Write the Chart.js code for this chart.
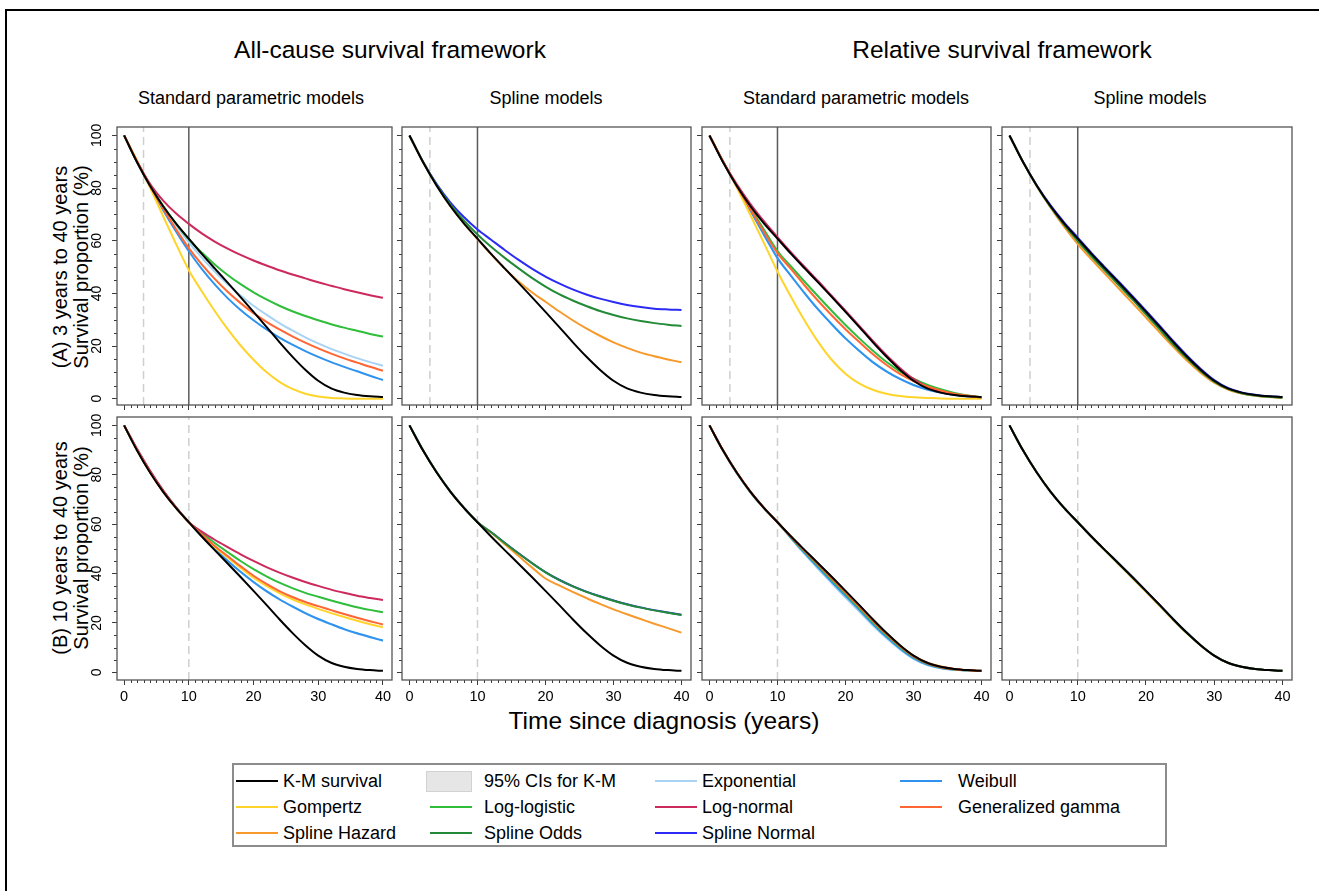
<!DOCTYPE html>
<html>
<head>
<meta charset="utf-8">
<script src="https://cdn.jsdelivr.net/npm/chart.js@4.4.1/dist/chart.umd.min.js"></script>
<style>
  body { margin: 0; background: #fff; width: 1319px; height: 891px; overflow: hidden; position: relative;
         font-family: "Liberation Sans", Arial, Helvetica, sans-serif; color: #000; }
  .frame { position: absolute; left: 5px; top: 9px; width: 1340px; height: 900px; border: 2px solid #000; }
  canvas { position: absolute; }
  .t { position: absolute; white-space: nowrap; transform: translate(-50%, -50%); line-height: 1; }
  .rot { transform: translate(-50%, -50%) rotate(-90deg); }
  .legend { position: absolute; left: 232px; top: 763px; width: 931px; height: 80px; border: 2px solid #8c8c8c; }
  .key { position: absolute; height: 2px; }
  .ci { position: absolute; background: #e6e6e6; border: 1px solid #d2d2d2; }
  .lab { position: absolute; font-size: 18px; white-space: nowrap; transform: translateY(-50%); line-height: 1; }
</style>
</head>
<body>
<div class="frame"></div>

<div class="t" style="left:390px;top:50px;font-size:24.5px">All-cause survival framework</div>
<div class="t" style="left:1002px;top:50px;font-size:24.5px">Relative survival framework</div>
<div class="t" style="left:251px;top:98px;font-size:18px">Standard parametric models</div>
<div class="t" style="left:546px;top:98px;font-size:18px">Spline models</div>
<div class="t" style="left:856px;top:98px;font-size:18px">Standard parametric models</div>
<div class="t" style="left:1150px;top:98px;font-size:18px">Spline models</div>

<div class="t rot" style="left:60px;top:267px;font-size:20px">(A) 3 years to 40 years</div>
<div class="t rot" style="left:81px;top:267px;font-size:20px">Survival proportion (%)</div>
<div class="t rot" style="left:60px;top:548px;font-size:20px">(B) 10 years to 40 years</div>
<div class="t rot" style="left:81px;top:548px;font-size:20px">Survival proportion (%)</div>

<div class="t" style="left:664px;top:721px;font-size:24.5px">Time since diagnosis (years)</div>

<div id="legend"></div>

<script>
// ── DATA (survival %) ─────────────────────────────────────────────────────
const years = [0, 2, 4, 6, 8, 10, 12, 14, 16, 18, 20, 22, 24, 26, 28, 30, 32, 34, 36, 38, 40];

const kmSurvival = [100, 89.8, 80.9, 73.2, 66.6, 60.8, 55.0, 49.5, 44.1, 38.6, 33.0, 27.3, 21.5, 16.0, 11.0, 6.8, 3.9, 2.3, 1.4, 0.9, 0.6];

// (A) fitted on 3 years - all-cause, standard parametric
const aAllExponential = [100, 90.0, 81.1, 73.1, 65.9, 59.4, 53.6, 48.3, 43.5, 39.2, 35.3, 31.9, 28.7, 25.9, 23.3, 21.0, 18.9, 17.1, 15.4, 13.9, 12.5];
const aAllWeibull     = [100, 89.9, 80.6, 71.8, 63.6, 56.0, 49.3, 43.4, 38.2, 33.7, 29.8, 26.3, 23.2, 20.5, 18.1, 15.9, 13.9, 12.1, 10.4, 8.7, 7.1];
const aAllGompertz    = [100, 90.4, 80.2, 69.5, 58.9, 48.8, 40.8, 33.3, 26.4, 20.2, 14.8, 10.1, 6.4, 3.7, 1.9, 0.8, 0.3, 0.1, 0.0, 0.0, 0.0];
const aAllLogLogistic = [100, 89.9, 81.0, 73.4, 66.6, 60.5, 55.5, 51.0, 47.0, 43.5, 40.4, 37.7, 35.3, 33.2, 31.4, 29.8, 28.3, 27.0, 25.8, 24.6, 23.6];
const aAllLogNormal   = [100, 90.2, 81.6, 75.3, 70.4, 66.4, 62.8, 59.7, 57.0, 54.6, 52.5, 50.6, 48.8, 47.2, 45.7, 44.2, 42.9, 41.6, 40.4, 39.3, 38.3];
const aAllGenGamma    = [100, 90.0, 80.9, 72.3, 64.4, 57.2, 51.0, 45.5, 40.6, 36.3, 32.5, 29.2, 26.3, 23.7, 21.3, 19.1, 17.1, 15.3, 13.7, 12.1, 10.6];
// (A) all-cause, spline
const aAllSplineHazard = [100, 89.8, 80.9, 73.2, 66.6, 60.6, 54.8, 49.4, 44.6, 40.4, 36.8, 33.2, 29.8, 26.7, 23.9, 21.4, 19.3, 17.5, 16.1, 14.9, 13.8];
const aAllSplineOdds   = [100, 89.9, 81.2, 73.8, 67.7, 62.4, 57.7, 53.5, 49.6, 45.9, 42.6, 39.7, 37.3, 35.2, 33.3, 31.8, 30.5, 29.5, 28.7, 28.1, 27.6];
const aAllSplineNormal = [100, 90.0, 81.5, 74.6, 69.0, 64.3, 60.4, 56.5, 52.8, 49.4, 46.4, 43.8, 41.5, 39.6, 38.0, 36.7, 35.6, 34.8, 34.2, 33.9, 33.7];
// (A) relative, standard parametric
const aRelExponential = [100, 90.0, 80.6, 71.6, 62.3, 53.5, 46.7, 40.1, 33.9, 28.3, 23.0, 18.3, 14.0, 10.5, 7.6, 5.2, 3.5, 2.3, 1.4, 0.8, 0.3];
const aRelWeibull     = [100, 90.0, 80.6, 71.6, 62.3, 53.4, 46.6, 40.0, 33.8, 28.2, 22.9, 18.2, 13.9, 10.4, 7.5, 5.2, 3.5, 2.3, 1.4, 0.8, 0.3];
const aRelGompertz    = [100, 90.2, 80.3, 69.8, 59.2, 48.3, 38.6, 29.6, 21.5, 14.7, 9.5, 5.8, 3.4, 1.9, 1.0, 0.5, 0.3, 0.1, 0.0, 0.0, 0.0];
const aRelLogLogistic = [100, 90.0, 81.0, 72.6, 64.3, 56.1, 50.2, 44.4, 38.8, 33.3, 28.0, 23.0, 18.3, 14.0, 10.4, 7.6, 5.3, 3.6, 2.2, 1.2, 0.5];
const aRelLogNormal   = [100, 90.1, 81.5, 74.0, 67.4, 61.4, 55.6, 50.0, 44.6, 39.0, 33.4, 27.7, 22.0, 16.6, 11.7, 7.5, 4.5, 2.7, 1.6, 0.9, 0.5];
const aRelGenGamma    = [100, 90.0, 80.8, 72.1, 63.4, 55.3, 49.2, 43.0, 37.1, 31.6, 26.4, 21.6, 17.0, 12.9, 9.4, 6.7, 4.7, 3.1, 1.9, 1.1, 0.4];
// (A) relative, spline
const aRelSplineHazard = [100, 89.8, 80.7, 72.6, 65.3, 58.7, 52.9, 47.4, 41.9, 36.4, 30.8, 25.2, 19.7, 14.5, 9.9, 6.1, 3.5, 2.0, 1.1, 0.6, 0.3];
const aRelSplineOdds   = [100, 89.8, 80.8, 72.9, 66.0, 59.9, 54.1, 48.6, 43.2, 37.7, 32.0, 26.3, 20.6, 15.3, 10.5, 6.5, 3.7, 2.1, 1.2, 0.7, 0.4];
const aRelSplineNormal = [100, 89.9, 81.1, 73.5, 67.0, 61.2, 55.4, 49.9, 44.5, 39.0, 33.4, 27.7, 21.9, 16.4, 11.4, 7.1, 4.1, 2.4, 1.5, 0.9, 0.6];

// (B) fitted on 10 years - all-cause, standard parametric
const bAllExponential = [100, 90.2, 81.4, 73.6, 66.9, 60.8, 55.1, 49.9, 45.1, 40.6, 36.5, 32.8, 29.5, 26.6, 23.9, 21.5, 19.4, 17.4, 15.7, 14.2, 12.8];
const bAllWeibull     = [100, 90.2, 81.4, 73.6, 66.9, 60.8, 55.2, 50.0, 45.2, 40.7, 36.6, 32.9, 29.6, 26.7, 24.0, 21.6, 19.5, 17.5, 15.8, 14.3, 12.9];
const bAllGompertz    = [100, 90.0, 81.0, 73.3, 66.7, 60.8, 55.6, 50.8, 46.5, 42.3, 38.3, 35.0, 32.1, 29.6, 27.5, 25.7, 24.0, 22.4, 20.9, 19.5, 18.2];
const bAllLogLogistic = [100, 90.0, 81.2, 73.6, 66.9, 60.8, 56.4, 52.4, 48.7, 45.1, 41.8, 38.9, 36.3, 34.1, 32.2, 30.6, 29.1, 27.7, 26.4, 25.3, 24.3];
const bAllLogNormal   = [100, 90.5, 81.7, 73.8, 66.9, 60.8, 57.0, 53.7, 50.7, 47.8, 45.1, 42.6, 40.4, 38.4, 36.6, 35.0, 33.5, 32.2, 31.0, 30.1, 29.3];
const bAllGenGamma    = [100, 90.1, 81.1, 73.3, 66.7, 60.8, 55.8, 51.2, 47.1, 43.0, 39.1, 35.8, 32.9, 30.5, 28.5, 26.8, 25.2, 23.6, 22.1, 20.7, 19.4];
// (B) all-cause, spline
const bAllSplineHazard = [100, 89.8, 80.9, 73.2, 66.6, 60.8, 56.6, 51.9, 47.2, 42.5, 38.0, 35.2, 32.6, 30.1, 27.7, 25.5, 23.5, 21.6, 19.7, 17.9, 16.1];
const bAllSplineOdds   = [100, 89.9, 81.0, 73.3, 66.7, 60.8, 56.7, 52.4, 48.2, 44.2, 40.5, 37.4, 34.8, 32.6, 30.7, 29.0, 27.5, 26.2, 25.1, 24.1, 23.2];
const bAllSplineNormal = [100, 89.9, 81.0, 73.3, 66.7, 60.8, 56.8, 52.5, 48.3, 44.3, 40.6, 37.5, 34.9, 32.7, 30.8, 29.1, 27.6, 26.3, 25.2, 24.2, 23.3];
// (B) relative, standard parametric
const bRelExponential = [100, 89.6, 80.6, 72.9, 66.4, 60.8, 54.2, 47.9, 41.8, 36.0, 30.3, 24.7, 19.1, 13.9, 9.3, 5.5, 3.0, 1.7, 1.0, 0.7, 0.5];
const bRelWeibull     = [100, 89.7, 80.7, 73.0, 66.5, 60.8, 54.4, 48.3, 42.4, 36.6, 31.0, 25.4, 19.7, 14.4, 9.7, 5.8, 3.2, 1.8, 1.1, 0.7, 0.5];
const bRelGompertz    = [100, 89.8, 80.9, 73.2, 66.6, 60.8, 54.9, 49.3, 43.8, 38.3, 32.7, 27.0, 21.3, 15.9, 11.0, 6.8, 4.0, 2.4, 1.4, 0.9, 0.6];
const bRelLogLogistic = [100, 89.8, 80.9, 73.1, 66.6, 60.8, 54.6, 48.8, 43.1, 37.4, 31.8, 26.1, 20.4, 15.1, 10.3, 6.3, 3.6, 2.0, 1.2, 0.8, 0.5];
const bRelLogNormal   = [100, 89.9, 81.0, 73.3, 66.7, 60.8, 54.9, 49.4, 44.0, 38.5, 32.9, 27.2, 21.4, 15.9, 10.9, 6.7, 3.9, 2.3, 1.4, 0.9, 0.6];
const bRelGenGamma    = [100, 89.8, 80.9, 73.2, 66.6, 60.8, 54.8, 49.1, 43.5, 37.9, 32.3, 26.6, 20.9, 15.5, 10.6, 6.5, 3.7, 2.1, 1.3, 0.8, 0.5];
// (B) relative, spline
const bRelSplineHazard = [100, 89.8, 80.9, 73.2, 66.6, 60.8, 54.9, 49.3, 43.8, 38.2, 32.6, 26.9, 21.2, 15.8, 10.9, 6.8, 3.9, 2.3, 1.4, 0.9, 0.6];
const bRelSplineOdds   = [100, 89.8, 80.9, 73.2, 66.6, 60.8, 55.0, 49.4, 44.0, 38.5, 32.9, 27.2, 21.4, 15.9, 11.0, 6.8, 3.9, 2.3, 1.4, 0.9, 0.6];
const bRelSplineNormal = [100, 89.8, 80.9, 73.2, 66.6, 60.8, 55.0, 49.5, 44.1, 38.6, 33.0, 27.3, 21.5, 16.0, 11.0, 6.8, 3.9, 2.3, 1.4, 0.9, 0.6];

const xTickValues = [0, 10, 20, 30, 40];
const yTickValues = [0, 20, 40, 60, 80, 100];

// ── STYLES / LAYOUT ───────────────────────────────────────────────────────
const FONT  = '"Liberation Sans", Arial, Helvetica, sans-serif';
const AXIS  = '#3a3a3a';
const FRAME = '#555555';

const modelStyles = {
  'K-M survival':      { color: '#000000', order: 0 },
  'Exponential':       { color: '#a9d3f2', order: 6 },
  'Weibull':           { color: '#2e93ef', order: 5 },
  'Gompertz':          { color: '#ffd42a', order: 4 },
  'Log-logistic':      { color: '#2fbd3a', order: 3 },
  'Log-normal':        { color: '#cc2a5c', order: 2 },
  'Generalized gamma': { color: '#ff6633', order: 1 },
  'Spline Hazard':     { color: '#f7992b', order: 2 },
  'Spline Odds':       { color: '#238a37', order: 1 },
  'Spline Normal':     { color: '#2b2bf5', order: 3 }
};

const colBoxes = [
  { left: 117, width: 275 },
  { left: 402, width: 289 },
  { left: 702, width: 289 },
  { left: 1002, width: 290 }
];
const rowBoxes = [
  { top: 127, height: 278, yMin: -2.4, yMax: 103.2 },
  { top: 417, height: 263, yMin: -3.1, yMax: 103.4 }
];
const X_MIN = -1.1, X_MAX = 41.4;
const ML = 45, MT = 4, MR = 4, MB = 32;

const panels = [
  { row: 0, col: 0, dashedAt: 3, solidAt: 10, models: [
    ['Exponential', aAllExponential], ['Weibull', aAllWeibull], ['Gompertz', aAllGompertz],
    ['Log-logistic', aAllLogLogistic], ['Log-normal', aAllLogNormal], ['Generalized gamma', aAllGenGamma]] },
  { row: 0, col: 1, dashedAt: 3, solidAt: 10, models: [
    ['Spline Hazard', aAllSplineHazard], ['Spline Odds', aAllSplineOdds], ['Spline Normal', aAllSplineNormal]] },
  { row: 0, col: 2, dashedAt: 3, solidAt: 10, models: [
    ['Exponential', aRelExponential], ['Weibull', aRelWeibull], ['Gompertz', aRelGompertz],
    ['Log-logistic', aRelLogLogistic], ['Log-normal', aRelLogNormal], ['Generalized gamma', aRelGenGamma]] },
  { row: 0, col: 3, dashedAt: 3, solidAt: 10, models: [
    ['Spline Hazard', aRelSplineHazard], ['Spline Odds', aRelSplineOdds], ['Spline Normal', aRelSplineNormal]] },
  { row: 1, col: 0, dashedAt: 10, solidAt: null, models: [
    ['Exponential', bAllExponential], ['Weibull', bAllWeibull], ['Gompertz', bAllGompertz],
    ['Log-logistic', bAllLogLogistic], ['Log-normal', bAllLogNormal], ['Generalized gamma', bAllGenGamma]] },
  { row: 1, col: 1, dashedAt: 10, solidAt: null, models: [
    ['Spline Hazard', bAllSplineHazard], ['Spline Odds', bAllSplineOdds], ['Spline Normal', bAllSplineNormal]] },
  { row: 1, col: 2, dashedAt: 10, solidAt: null, models: [
    ['Exponential', bRelExponential], ['Weibull', bRelWeibull], ['Gompertz', bRelGompertz],
    ['Log-logistic', bRelLogLogistic], ['Log-normal', bRelLogNormal], ['Generalized gamma', bRelGenGamma]] },
  { row: 1, col: 3, dashedAt: 10, solidAt: null, models: [
    ['Spline Hazard', bRelSplineHazard], ['Spline Odds', bRelSplineOdds], ['Spline Normal', bRelSplineNormal]] }
];

// ── PLUGIN: box + minor ticks ─────────────────────────────────────────────
const panelFrame = {
  id: 'panelFrame',
  afterDraw(chart) {
    const { ctx, chartArea: a, scales: { x, y } } = chart;
    ctx.save();
    ctx.strokeStyle = AXIS;
    ctx.lineWidth = 1;
    ctx.beginPath();
    for (let v = 0; v <= 40; v += 1) {
      if (v % 10 === 0) continue;
      const px = Math.round(x.getPixelForValue(v)) + 0.5;
      ctx.moveTo(px, a.bottom);
      ctx.lineTo(px, a.bottom + 3);
    }
    for (let v = 0; v <= 100; v += 5) {
      if (v % 20 === 0) continue;
      const py = Math.round(y.getPixelForValue(v)) + 0.5;
      ctx.moveTo(a.left, py);
      ctx.lineTo(a.left - 3, py);
    }
    ctx.stroke();
    ctx.strokeStyle = FRAME;
    ctx.lineWidth = 1.3;
    ctx.strokeRect(a.left, a.top, a.width, a.height);
    ctx.restore();
  }
};

function toPoints(values) {
  return years.map((t, i) => ({ x: t, y: values[i] }));
}

function refLine(xVal, yMin, yMax, color, dash) {
  return {
    data: [{ x: xVal, y: yMin }, { x: xVal, y: yMax }],
    borderColor: color, borderWidth: 1.5, borderDash: dash,
    pointRadius: 0, tension: 0, cubicInterpolationMode: 'default', order: 20
  };
}

// ── BUILD PANELS ──────────────────────────────────────────────────────────
panels.forEach(p => {
  const cb = colBoxes[p.col];
  const rb = rowBoxes[p.row];
  const canvas = document.createElement('canvas');
  canvas.width = cb.width + ML + MR;
  canvas.height = rb.height + MT + MB;
  canvas.style.left = (cb.left - ML) + 'px';
  canvas.style.top = (rb.top - MT) + 'px';
  document.body.appendChild(canvas);

  const datasets = [{
    label: 'K-M survival', data: toPoints(kmSurvival),
    borderColor: modelStyles['K-M survival'].color, order: 0
  }];
  p.models.forEach(([name, values]) => {
    datasets.push({
      label: name, data: toPoints(values),
      borderColor: modelStyles[name].color, order: modelStyles[name].order
    });
  });
  datasets.push(refLine(p.dashedAt, rb.yMin, rb.yMax, '#cfcfcf', [8, 5]));
  if (p.solidAt !== null) datasets.push(refLine(p.solidAt, rb.yMin, rb.yMax, '#5a5a5a', []));

  new Chart(canvas, {
    type: 'line',
    data: { datasets },
    options: {
      responsive: false,
      animation: false,
      devicePixelRatio: 1,
      layout: { padding: { top: MT, right: MR, left: 0, bottom: 0 } },
      plugins: { legend: { display: false }, tooltip: { enabled: false } },
      elements: {
        point: { radius: 0 },
        line: { borderWidth: 2, cubicInterpolationMode: 'monotone', fill: false }
      },
      scales: {
        x: {
          type: 'linear', min: X_MIN, max: X_MAX,
          afterBuildTicks: s => { s.ticks = xTickValues.map(v => ({ value: v })); },
          afterFit: s => { s.height = MB; s.paddingLeft = 0; s.paddingRight = 0; },
          grid: { drawOnChartArea: false, drawTicks: true, tickLength: 5, tickColor: AXIS, tickWidth: 1 },
          border: { display: false },
          ticks: {
            autoSkip: false, maxRotation: 0, padding: 3, color: '#000',
            font: { family: FONT, size: 14.5 },
            callback: v => (p.row === 1 ? v : '')
          }
        },
        y: {
          type: 'linear', min: rb.yMin, max: rb.yMax,
          afterBuildTicks: s => { s.ticks = yTickValues.map(v => ({ value: v })); },
          afterFit: s => { s.width = ML; s.paddingTop = 0; s.paddingBottom = 0; },
          grid: { drawOnChartArea: false, drawTicks: true, tickLength: 5, tickColor: AXIS, tickWidth: 1 },
          border: { display: false },
          ticks: {
            autoSkip: false, minRotation: 90, maxRotation: 90, crossAlign: 'center', padding: 3,
            color: '#000', font: { family: FONT, size: 14 },
            callback: v => (p.col === 0 ? v : '')
          }
        }
      }
    },
    plugins: [panelFrame]
  });
});

// ── LEGEND (HTML) ─────────────────────────────────────────────────────────
const legendRows = [
  ['K-M survival', '95% CIs for K-M', 'Exponential', 'Weibull'],
  ['Gompertz', 'Log-logistic', 'Log-normal', 'Generalized gamma'],
  ['Spline Hazard', 'Spline Odds', 'Spline Normal']
];
const legendKeyLeft  = [236, 430, 655, 900];
const legendTextLeft = [283, 484, 702, 958];
const legendRowY     = [781, 807, 833];

const legendEl = document.getElementById('legend');
let html = '<div class="legend"></div>';
legendRows.forEach((row, r) => {
  row.forEach((name, c) => {
    const y = legendRowY[r];
    if (name === '95% CIs for K-M') {
      html += `<div class="ci" style="left:${legendKeyLeft[c] - 4}px;top:${y - 10}px;width:44px;height:19px"></div>`;
    } else {
      html += `<div class="key" style="left:${legendKeyLeft[c]}px;top:${y - 1}px;width:42px;background:${modelStyles[name].color}"></div>`;
    }
    html += `<div class="lab" style="left:${legendTextLeft[c]}px;top:${y}px">${name}</div>`;
  });
});
legendEl.innerHTML = html;
</script>
</body>
</html>
